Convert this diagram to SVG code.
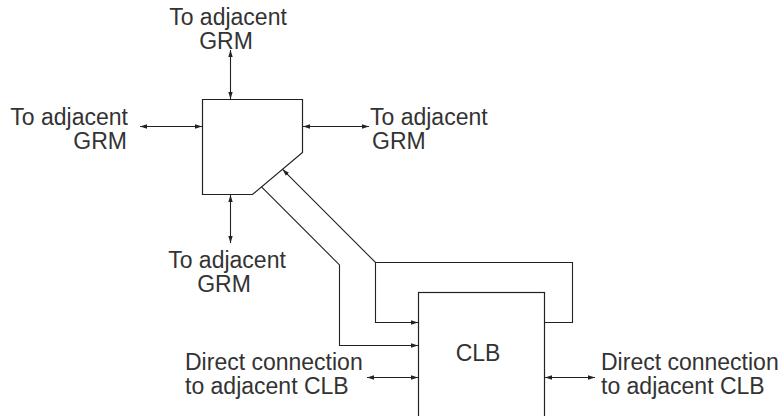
<svg xmlns="http://www.w3.org/2000/svg" width="778" height="416" viewBox="0 0 778 416">
  <defs>
    <marker id="arrow" viewBox="0 0 7 6" refX="7" refY="3" markerWidth="7" markerHeight="6" markerUnits="userSpaceOnUse" orient="auto-start-reverse">
      <path d="M0,0.8 L7,3 L0,5.2 Z" fill="#222"/>
    </marker>
    <style>
      .box { fill: #fff; stroke: #222; stroke-width: 1.2; }
      .wire { fill: none; stroke: #222; stroke-width: 1.1; }
      .both { marker-start: url(#arrow); marker-end: url(#arrow); }
      .end { marker-end: url(#arrow); }
      .start { marker-start: url(#arrow); }
      text { font-family: "Liberation Sans", Arial, Helvetica, sans-serif; font-size: 23px; fill: #333; }
    </style>
  </defs>
  <rect width="778" height="416" fill="#fff"/>

  <!-- routing matrix -->
  <g id="grm">
    <polygon class="box" points="202.5,99.5 302.5,99.5 302.5,152.5 252.5,194.5 202.5,194.5"/>
  </g>

  <!-- logic block -->
  <g id="clb">
    <rect class="box" x="418.5" y="292.5" width="126" height="140"/>
    <text x="478" y="361" text-anchor="middle">CLB</text>
  </g>

  <!-- labels -->
  <g id="label-top">
    <text x="228" y="25" text-anchor="middle">To adjacent</text>
    <text x="226" y="49" text-anchor="middle">GRM</text>
  </g>
  <g id="label-left">
    <text x="128" y="125" text-anchor="end">To adjacent</text>
    <text x="127" y="149" text-anchor="end">GRM</text>
  </g>
  <g id="label-right">
    <text x="370" y="125">To adjacent</text>
    <text x="372" y="149">GRM</text>
  </g>
  <g id="label-bottom">
    <text x="227" y="268" text-anchor="middle">To adjacent</text>
    <text x="224" y="292" text-anchor="middle">GRM</text>
  </g>
  <g id="label-clb-left">
    <text x="185" y="370">Direct connection</text>
    <text x="185" y="394">to adjacent CLB</text>
  </g>
  <g id="label-clb-right">
    <text x="601" y="370">Direct connection</text>
    <text x="601" y="394">to adjacent CLB</text>
  </g>

  <!-- connectors -->
  <g id="connectors">
    <line class="wire both" x1="230.5" y1="50" x2="230.5" y2="99"/>
    <line class="wire both" x1="140" y1="126.5" x2="202" y2="126.5"/>
    <line class="wire both" x1="303" y1="126.5" x2="369" y2="126.5"/>
    <line class="wire both" x1="230.5" y1="195" x2="230.5" y2="243"/>
    <path class="wire start" d="M282.5,169.3 L375.5,262.5 L572.5,262.5 L572.5,322.5 L544.5,322.5"/>
    <path class="wire end" d="M375.5,262.5 L375.5,322.5 L418,322.5"/>
    <path class="wire end" d="M261.5,186.9 L339.5,264.9 L339.5,345.5 L418,345.5"/>
    <line class="wire both" x1="367" y1="377.5" x2="418" y2="377.5"/>
    <line class="wire both" x1="545" y1="377.5" x2="595" y2="377.5"/>
  </g>
</svg>
